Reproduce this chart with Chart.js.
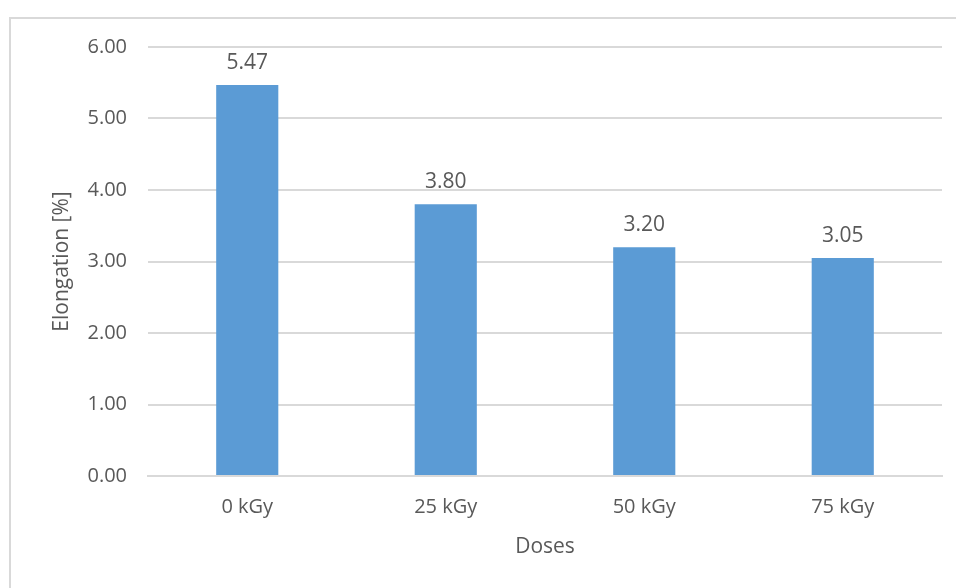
<!DOCTYPE html>
<html>
<head>
<meta charset="utf-8">
<script src="https://cdn.jsdelivr.net/npm/chart.js@4/dist/chart.umd.min.js"></script>
<style>
html,body{margin:0;padding:0;background:#fff;}
#wrap{position:relative;width:956px;height:588px;overflow:hidden;}
#frame{position:absolute;left:9px;top:17px;width:1000px;height:1000px;border-top:2px solid #d9d9d9;border-left:2px solid #d9d9d9;box-sizing:border-box;}
canvas{position:absolute;left:0;top:0;}
</style>
</head>
<body>
<div id="wrap">
<div id="frame"></div>
<canvas id="c" width="956" height="588"></canvas>
</div>
<script>
const categories = ["0 kGy", "25 kGy", "50 kGy", "75 kGy"];
const elongation = [5.47, 3.80, 3.20, 3.05];
const yTicks = [0, 1, 2, 3, 4, 5, 6];

const FONT = "'Open Sans', 'Liberation Sans', sans-serif";
const TXT = "#595959";
const FS = 20;
const FS_T = 21;

const valueLabels = {
  id: "valueLabels",
  afterDatasetsDraw(chart) {
    const ctx = chart.ctx;
    const meta = chart.getDatasetMeta(0);
    ctx.save();
    ctx.font = FS_T + "px " + FONT;
    ctx.fillStyle = TXT;
    ctx.textAlign = "center";
    ctx.textBaseline = "middle";
    meta.data.forEach((bar, i) => {
      ctx.fillText(chart.data.datasets[0].data[i].toFixed(2), bar.x, bar.y - 22);
    });
    ctx.restore();
  }
};

new Chart(document.getElementById("c"), {
  type: "bar",
  data: {
    labels: categories,
    datasets: [{
      data: elongation,
      backgroundColor: "#5B9BD5",
      borderWidth: 0,
      categoryPercentage: 1,
      barPercentage: 0.313
    }]
  },
  options: {
    responsive: false,
    animation: false,
    devicePixelRatio: 1,
    layout: { padding: { left: 49, right: 14, top: 47, bottom: 28 } },
    plugins: { legend: { display: false }, tooltip: { enabled: false } },
    scales: {
      x: {
        grid: { display: false, drawTicks: false },
        border: { display: true, color: "#d9d9d9", width: 2 },
        ticks: { color: TXT, font: { family: FONT, size: FS }, padding: 19 },
        title: { display: true, text: "Doses", color: TXT, font: { family: FONT, size: FS_T }, padding: { top: 0, bottom: 0 } },
        afterFit(s) { s.height = 84; }
      },
      y: {
        min: 0, max: 6,
        afterBuildTicks(s) { s.ticks = yTicks.map(v => ({ value: v })); },
        grid: { color: "#d9d9d9", lineWidth: 2, drawTicks: false },
        border: { display: false },
        ticks: { color: TXT, font: { family: FONT, size: FS }, padding: 21, callback: v => Number(v).toFixed(2) },
        title: { display: true, text: "Elongation [%]", color: TXT, font: { family: FONT, size: FS_T }, padding: { top: 0, bottom: 0 } },
        afterFit(s) { s.width = 99; }
      }
    }
  },
  plugins: [valueLabels]
});
</script>
</body>
</html>
